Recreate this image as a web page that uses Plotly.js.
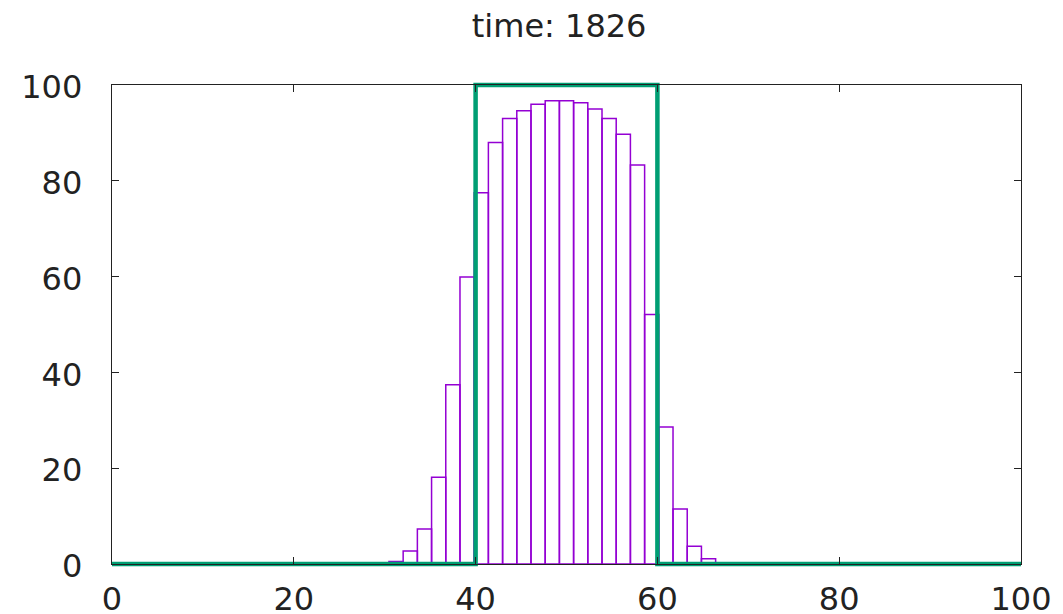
<!DOCTYPE html>
<html>
<head>
<meta charset="utf-8">
<script src="https://cdn.plot.ly/plotly-3.0.1.min.js"></script>
<style>html,body{margin:0;padding:0;background:#fff;}#chart{width:1063px;height:614px;}</style>
</head>
<body>
<div id="chart"></div>
<script>
// histogram cell centres (grid spacing 100/64)
const binCenters = [31.25, 32.8125, 34.375, 35.9375, 37.5, 39.0625, 40.625, 42.1875, 43.75, 45.3125,
  46.875, 48.4375, 50, 51.5625, 53.125, 54.6875, 56.25, 57.8125, 59.375, 60.9375, 62.5, 64.0625, 65.625];
const binValues = [0.5, 2.7, 7.3, 18.1, 37.4, 59.9, 77.5, 88.0, 93.0, 94.6,
  96.0, 96.7, 96.7, 96.3, 95.0, 93.0, 89.7, 83.3, 52.1, 28.6, 11.5, 3.7, 1.1];
const binWidth = 1.5625;

// initial square pulse
const pulseX = [0, 40, 40, 60, 60, 100];
const pulseY = [0, 0, 100, 100, 0, 0];

const tickVals = [0, 20, 40, 60, 80, 100];
const titleText = 'time: 1826';

const font = {family: 'DejaVu Sans', size: 32, color: '#222'};

// frame in pixels, plus an extra band so the thick pulse line is not clipped at the frame
const L = 112, R = 1021, T = 85, B = 564, E = 8;
const pw = R - L + 2 * E, ph = B - T + 2 * E;
const dx = [E / pw, 1 - E / pw], dy = [E / ph, 1 - E / ph];
const exX = E * 100 / (R - L), exY = E * 100 / (B - T);

const traces = [
  {
    type: 'bar', x: binCenters, y: binValues, width: binWidth, xaxis: 'x', yaxis: 'y',
    marker: {color: 'rgba(0,0,0,0)', line: {color: '#9400d3', width: 1.5}},
    hoverinfo: 'none', showlegend: false
  },
  {
    type: 'scatter', mode: 'lines', x: pulseX, y: pulseY, xaxis: 'x2', yaxis: 'y2',
    line: {color: '#009e73', width: 4.5},
    hoverinfo: 'none', showlegend: false
  },
  // empty trace so the frame subplot (drawn last, on top) exists
  {type: 'scatter', mode: 'none', x: [], y: [], xaxis: 'x3', yaxis: 'y3', hoverinfo: 'none', showlegend: false}
];

const hidden = {visible: false, showgrid: false, zeroline: false, fixedrange: true};

const frameAxis = {
  showline: true, linecolor: '#222', linewidth: 1.3, mirror: 'ticks',
  ticks: 'inside', ticklen: 7, tickwidth: 1.2, tickcolor: '#222',
  showgrid: false, zeroline: false, tickfont: font,
  tickvals: tickVals, ticktext: tickVals.map(String), fixedrange: true
};

const layout = {
  width: 1063, height: 614,
  margin: {l: L - E, r: 1063 - R - E, t: T - E, b: 614 - B - E, pad: 0},
  paper_bgcolor: '#fff', plot_bgcolor: 'rgba(0,0,0,0)',
  font: font,
  title: {text: titleText, font: font, xref: 'container', x: 0.526, xanchor: 'center',
          yref: 'container', y: 0.9586, yanchor: 'middle'},
  xaxis: Object.assign({}, hidden, {domain: dx, range: [0, 100], anchor: 'y'}),
  yaxis: Object.assign({}, hidden, {domain: dy, range: [0, 100], anchor: 'x'}),
  xaxis2: Object.assign({}, hidden, {domain: [0, 1], range: [-exX, 100 + exX], anchor: 'y2'}),
  yaxis2: Object.assign({}, hidden, {domain: [0, 1], range: [-exY, 100 + exY], anchor: 'x2'}),
  xaxis3: Object.assign({}, frameAxis, {domain: dx, range: [0, 100], anchor: 'y3', ticklabelstandoff: 6}),
  yaxis3: Object.assign({}, frameAxis, {domain: dy, range: [0, 100], anchor: 'x3', ticklabelstandoff: 22, ticklabelshift: 2}),
  bargap: 0, showlegend: false
};

Plotly.newPlot('chart', traces, layout, {displayModeBar: false, staticPlot: true});
</script>
</body>
</html>
